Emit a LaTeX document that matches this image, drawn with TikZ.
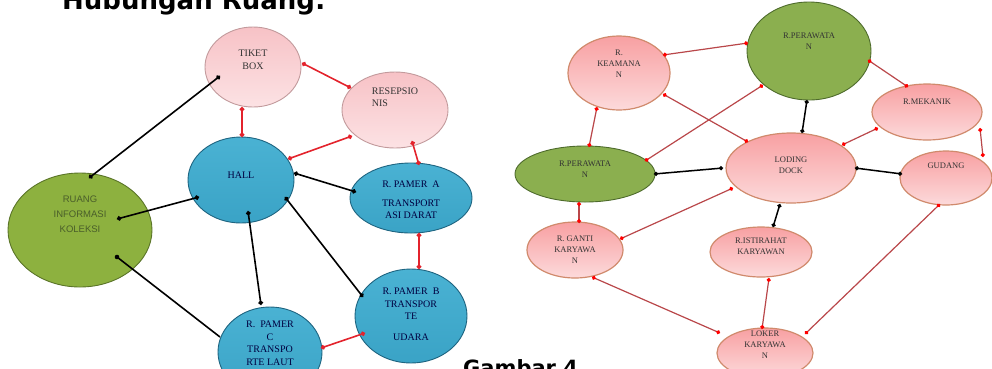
\documentclass[tikz,border=0pt]{standalone}
\usepackage{fontspec}
\setmainfont{Liberation Serif}
\newfontfamily\titlefont{DejaVu Sans}
\newfontfamily\infofont{Liberation Sans}
\usetikzlibrary{shapes.geometric, arrows.meta}

\definecolor{pinkfill}{HTML}{F7C2C6}
\definecolor{pinklite}{HTML}{FCE2E4}
\definecolor{pinkline}{HTML}{C29A9C}
\definecolor{bluefill}{HTML}{3AA3C6}
\definecolor{bluetop}{HTML}{4AB2D3}
\definecolor{blueline}{HTML}{1E6480}
\definecolor{greenfill}{HTML}{8DB13F}
\definecolor{greenline}{HTML}{5A7428}
\definecolor{infotext}{HTML}{4A5E2A}
\definecolor{rosetop}{HTML}{F8A0A2}
\definecolor{rosebot}{HTML}{FCDADB}
\definecolor{roseline}{HTML}{D08A6C}
\definecolor{leafgreen}{HTML}{8BAF4F}
\definecolor{leafline}{HTML}{4E6B2C}
\definecolor{linkred}{HTML}{E3232C}
\definecolor{thinred}{HTML}{B9474A}

\begin{document}
\begin{tikzpicture}[x=1pt, y=-1pt,
    room/.style={ellipse, draw, line width=0.9pt, inner sep=0pt},
    tag/.style={align=center, inner sep=0pt, font=\fontsize{10}{12.5}\selectfont, text=black!80},
    small/.style={align=center, inner sep=0pt, font=\fontsize{8.5}{11}\selectfont, text=black!80},
    softpink/.style={room, draw=pinkline, top color=pinkfill, bottom color=pinklite},
    exhibit/.style={room, draw=blueline, top color=bluetop, bottom color=bluefill},
    infogreen/.style={room, draw=greenline, fill=greenfill},
    rose/.style={room, draw=roseline, line width=1.2pt, top color=rosetop, bottom color=rosebot},
    leaf/.style={room, draw=leafline, fill=leafgreen},
    redlink/.style={draw=linkred, line width=1.6pt, {Circle[length=4.5pt]}-{Circle[length=4.5pt]}},
    blacklink/.style={draw=black, line width=1.6pt, {Circle[length=4.5pt]}-{Circle[length=4.5pt]}},
    thinlink/.style={draw=thinred, line width=1.2pt, {Circle[length=4pt, color=red]}-{Circle[length=4pt, color=red]}},
    darklink/.style={draw=black, line width=1.5pt, {Circle[length=4pt]}-{Circle[length=4pt]}}]
    \useasboundingbox (0,0) rectangle (992,368);

    % Titles
    \node[font=\titlefont\bfseries\fontsize{26}{30}\selectfont, anchor=base west, inner sep=0pt] (judul) at (62,9) {Hubungan Ruang:};
    \node[font=\titlefont\bfseries\fontsize{21}{25}\selectfont, anchor=base west, inner sep=0pt] (gambar) at (463,375) {Gambar 4};

    % Nodes (left)
    \node[softpink, minimum width=96pt, minimum height=80pt, label={[tag, yshift=7pt]center:{TIKET\\BOX}}] (tiket) at (253,67) {};
    \node[softpink, minimum width=106pt, minimum height=76pt, label={[tag, align=left, yshift=13pt]center:{RESEPSIO\\NIS}}] (resep) at (395,110) {};
    \node[exhibit, minimum width=106pt, minimum height=86pt, label={[tag, text=blue!25!black, yshift=5pt]center:HALL}] (hall) at (241,180) {};
    \node[exhibit, minimum width=122pt, minimum height=70pt, label={[tag, text=blue!25!black, yshift=-2pt]center:{R. PAMER\ \ A\\[6pt]TRANSPORT\\ASI DARAT}}] (pamerA) at (411,198) {};
    \node[infogreen, minimum width=144pt, minimum height=114pt, label={[tag, font=\infofont\fontsize{9.5}{15}\selectfont, text=infotext, yshift=16pt]center:{RUANG\\INFORMASI\\KOLEKSI}}] (ruang) at (80,230) {};
    \node[exhibit, minimum width=112pt, minimum height=94pt, label={[tag, text=blue!25!black, yshift=2pt]center:{R. PAMER\ \ B\\TRANSPOR\\TE\\[8pt]UDARA}}] (pamerB) at (411,316) {};
    \node[exhibit, minimum width=104pt, minimum height=90pt, label={[tag, text=blue!25!black, yshift=9pt]center:{R.\ \ PAMER\\C\\TRANSPO\\RTE LAUT}}] (pamerC) at (270,352) {};

    % Nodes (right)
    \node[rose, minimum width=102pt, minimum height=74pt, label={[small, yshift=9pt]center:{R.\\KEAMANA\\N}}] (keamanan) at (619,73) {};
    \node[leaf, minimum width=124pt, minimum height=98pt, label={[small, yshift=10pt]center:{R.PERAWATA\\N}}] (rawatA) at (809,51) {};
    \node[rose, minimum width=110pt, minimum height=56pt, label={[small, yshift=10pt]center:R.MEKANIK}] (mekanik) at (927,112) {};
    \node[rose, minimum width=130pt, minimum height=70pt, label={[small, yshift=3pt]center:{LODING\\DOCK}}] (dock) at (791,168) {};
    \node[rose, minimum width=92pt, minimum height=54pt, label={[small, yshift=12pt]center:GUDANG}] (gudang) at (946,178) {};
    \node[leaf, minimum width=140pt, minimum height=56pt, label={[small, yshift=5pt]center:{R.PERAWATA\\N}}] (rawatB) at (585,174) {};
    \node[rose, minimum width=96pt, minimum height=56pt, label={[small]center:{R. GANTI\\KARYAWA\\N}}] (ganti) at (575,250) {};
    \node[rose, minimum width=102pt, minimum height=50pt, label={[small, yshift=6pt]center:{R.ISTIRAHAT\\KARYAWAN}}] (istirahat) at (761,252) {};
    \node[rose, minimum width=96pt, minimum height=50pt, label={[small, yshift=8pt]center:{LOKER\\KARYAWA\\N}}] (loker) at (765,353) {};

    % Links (left)
    \draw[blacklink] ([shift={(-33,9)}]tiket.center) -- ([shift={(9,-52)}]ruang.center);
    \draw[redlink] ([shift={(-11,40)}]tiket.center) -- ([shift={(1,-43)}]hall.center);
    \draw[redlink] ([shift={(49,-4)}]tiket.center) -- ([shift={(-44,-22)}]resep.center);
    \draw[redlink] ([shift={(-43,26)}]resep.center) -- ([shift={(47,-21)}]hall.center);
    \draw[redlink] ([shift={(17,31)}]resep.center) -- ([shift={(8,-33)}]pamerA.center);
    \draw[blacklink] ([shift={(53,-7)}]hall.center) -- ([shift={(-55,-6)}]pamerA.center);
    \draw[blacklink] ([shift={(-42,17)}]hall.center) -- ([shift={(37,-11)}]ruang.center);
    \draw[blacklink] ([shift={(7,31)}]hall.center) -- ([shift={(-9,-47)}]pamerC.center);
    \draw[blacklink] ([shift={(44,17)}]hall.center) -- ([shift={(-48,-19)}]pamerB.center);
    \draw[blacklink, -] ([shift={(37,27)}]ruang.center) -- ([shift={(-50,-15)}]pamerC.center);
    \fill (ruang.center) ++(37,27) circle (2.3pt);
    \draw[redlink] ([shift={(8,35)}]pamerA.center) -- ([shift={(8,-47)}]pamerB.center);
    \draw[redlink] ([shift={(-46,17)}]pamerB.center) -- ([shift={(51,-4)}]pamerC.center);

    % Links (right)
    \draw[thinlink] ([shift={(44,-18)}]keamanan.center) -- ([shift={(-61,-8)}]rawatA.center);
    \draw[thinlink] ([shift={(44,21)}]keamanan.center) -- ([shift={(-43,-26)}]dock.center);
    \draw[thinlink] ([shift={(-22,34)}]keamanan.center) -- ([shift={(4,-27)}]rawatB.center);
    \draw[thinlink] ([shift={(-46,34)}]rawatA.center) -- ([shift={(60,-13)}]rawatB.center);
    \draw[darklink] ([shift={(-2,49)}]rawatA.center) -- ([shift={(11,-35)}]dock.center);
    \draw[thinlink] ([shift={(59,9)}]rawatA.center) -- ([shift={(-19,-25)}]mekanik.center);
    \draw[thinlink] ([shift={(-49,16)}]mekanik.center) -- ([shift={(51,-23)}]dock.center);
    \draw[thinlink] ([shift={(53,16)}]mekanik.center) -- ([shift={(37,-21)}]gudang.center);
    \draw[darklink] ([shift={(64,0)}]dock.center) -- ([shift={(-44,-4)}]gudang.center);
    \draw[darklink] ([shift={(-68,0)}]dock.center) -- ([shift={(69,0)}]rawatB.center);
    \draw[thinlink] ([shift={(-58,20)}]dock.center) -- ([shift={(45,-11)}]ganti.center);
    \draw[darklink] ([shift={(-11,36)}]dock.center) -- ([shift={(12,-25)}]istirahat.center);
    \draw[thinlink] ([shift={(-6,28)}]rawatB.center) -- ([shift={(4,-27)}]ganti.center);
    \draw[thinlink] ([shift={(17,27)}]ganti.center) -- ([shift={(-45,-20)}]loker.center);
    \draw[thinlink] ([shift={(8,26)}]istirahat.center) -- ([shift={(-3,-24)}]loker.center);
    \draw[thinlink] ([shift={(-6,26)}]gudang.center) -- ([shift={(40,-19)}]loker.center);
\end{tikzpicture}
\end{document}
